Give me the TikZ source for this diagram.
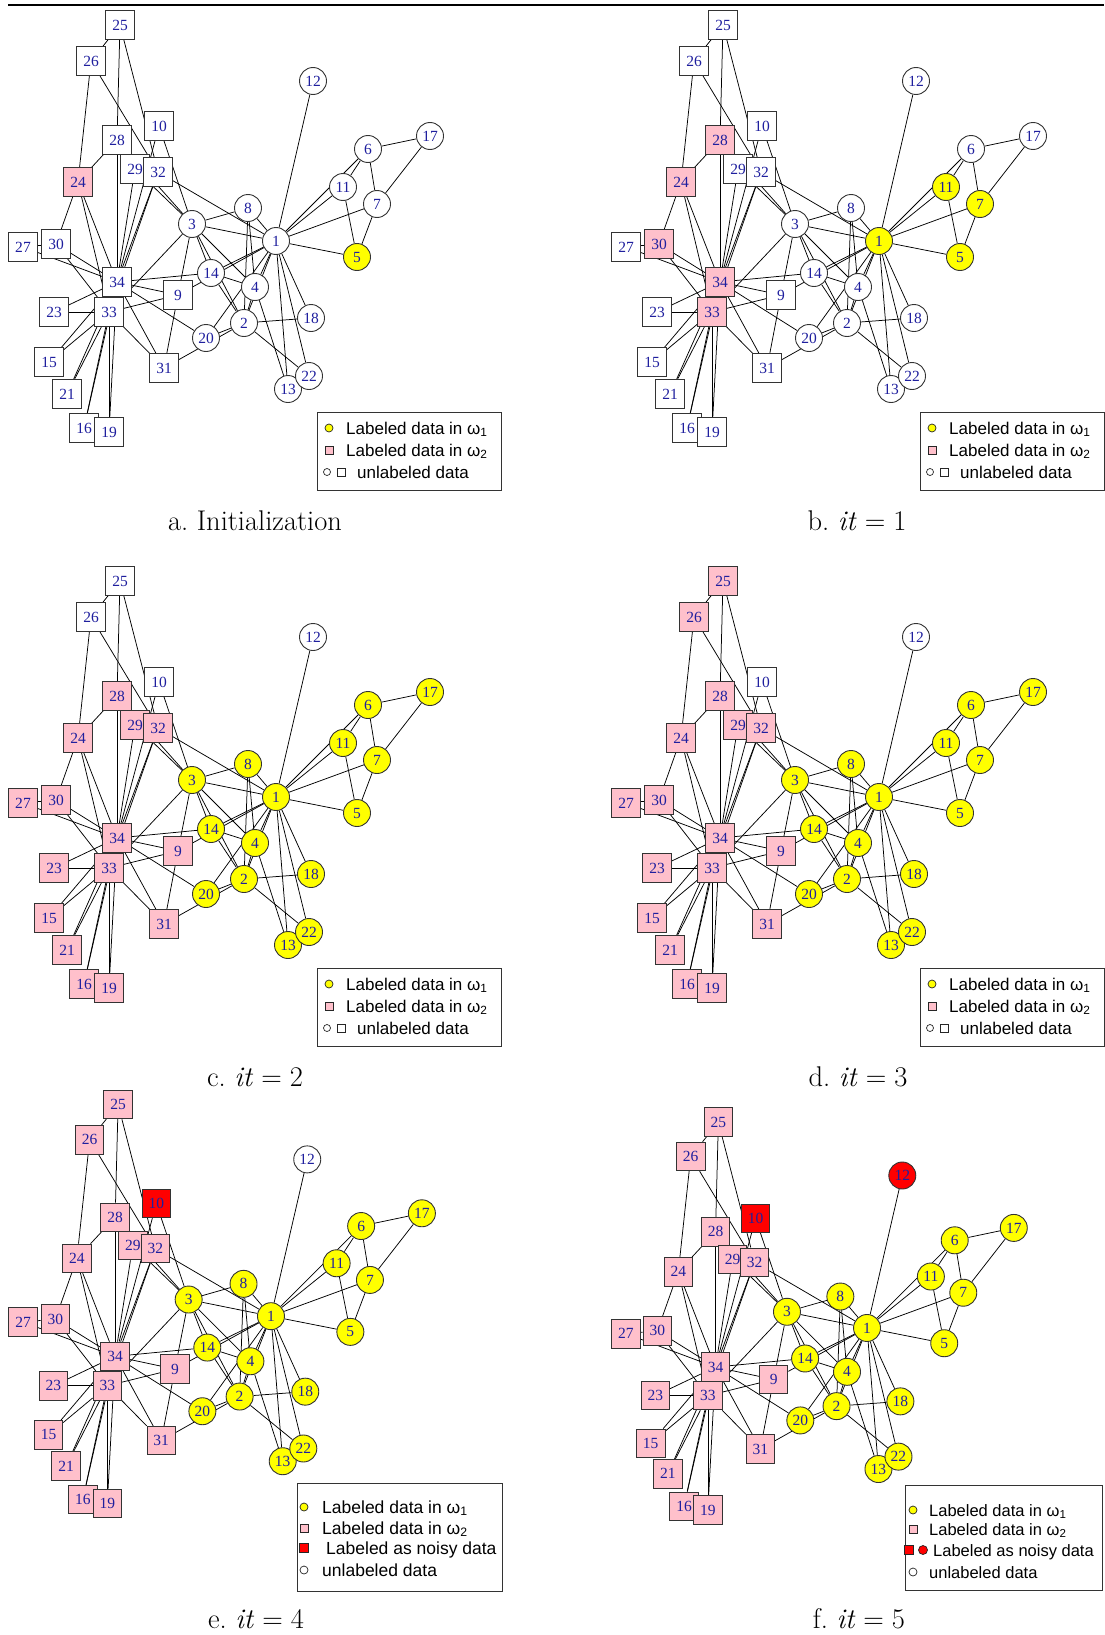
\documentclass[tikz,border=0pt]{standalone}
\usepackage{fontspec}
\newfontfamily\labfont{Liberation Serif}
\newfontfamily\keyfont{Liberation Sans}
\usetikzlibrary{backgrounds}
\definecolor{labblue}{HTML}{1F1F9E}
\definecolor{yellowone}{HTML}{FFFF00}
\definecolor{pinktwo}{HTML}{FFC0CB}
\definecolor{noisyred}{HTML}{FF0000}

% member / x / y / group (1 = circle, 2 = square), layout of panel a
\def\clubnodes{1/276/241/1, 2/244/323/1, 3/192/224/1, 4/255/287/1, 5/357/257/1,
  6/368/149/1, 7/377/204/1, 8/248/208/1, 9/178/295/2, 10/159/126/2, 11/343/187/1,
  12/313/81/1, 13/288/389/1, 14/211/273/1, 15/49/362/2, 16/84/428/2, 17/430/136/1,
  18/311/318/1, 19/109/432/2, 20/206/338/1, 21/67/394/2, 22/309/376/1, 23/54/312/2,
  24/78/182/2, 25/120/25/2, 26/91/61/2, 27/23/247/2, 28/117/140/2, 29/135/169/2,
  30/56/244/2, 31/164/368/2, 32/158/172/2, 33/109/312/2, 34/117/282/2}
\def\clubties{1/2, 1/3, 1/4, 1/5, 1/6, 1/7, 1/8, 1/9, 1/11, 1/12, 1/13, 1/14, 1/18,
  1/20, 1/22, 1/32, 2/3, 2/4, 2/8, 2/14, 2/18, 2/20, 2/22, 2/31, 3/4, 3/8, 3/9, 3/10,
  3/14, 3/28, 3/29, 3/33, 4/8, 4/13, 4/14, 5/7, 5/11, 6/7, 6/11, 6/17, 7/17, 9/31,
  9/33, 9/34, 10/34, 14/34, 15/33, 15/34, 16/33, 16/34, 19/33, 19/34, 20/34, 21/33,
  21/34, 23/33, 23/34, 24/26, 24/28, 24/30, 24/33, 24/34, 25/26, 25/28, 25/32, 26/32,
  27/30, 27/34, 28/34, 29/32, 29/34, 30/33, 30/34, 31/33, 31/34, 32/33, 32/34, 33/34}

\tikzset{
  % members: circles for the first group, squares for the second
  mem1/.style={circle, draw=black!80, line width=0.9pt, fill=\fillone,
    minimum size=27pt, inner sep=0pt, text=labblue,
    font=\labfont\fontsize{15.5}{15.5}\selectfont},
  mem2/.style={rectangle, draw=black!80, line width=0.9pt, fill=\filltwo,
    minimum size=28.5pt, inner sep=0pt, text=labblue,
    font=\labfont\fontsize{15.5}{15.5}\selectfont},
  tie/.style={draw=black, line width=0.75pt},
  % fills
  ylw/.style={fill=yellowone}, pnk/.style={fill=pinktwo},
  unlab/.style={fill=white}, noise/.style={fill=noisyred},
  % members that differ from the panel default
  a-5/.style=ylw, a-24/.style=pnk,
  b-1/.style=ylw, b-5/.style=ylw, b-7/.style=ylw, b-11/.style=ylw,
  b-24/.style=pnk, b-28/.style=pnk, b-30/.style=pnk, b-33/.style=pnk, b-34/.style=pnk,
  c-10/.style=unlab, c-12/.style=unlab, c-25/.style=unlab, c-26/.style=unlab,
  d-10/.style=unlab, d-12/.style=unlab,
  e-10/.style=noise, e-12/.style=unlab,
  f-10/.style=noise, f-12/.style=noise,
  % legend
  keyframe/.style={rectangle, draw=black!80, line width=0.9pt, fill=white, inner sep=0pt},
  keydot/.style={circle, draw=black!85, line width=0.7pt, minimum size=8pt, inner sep=0pt},
  keysq/.style={rectangle, draw=black!85, line width=0.7pt, minimum size=8pt, inner sep=0pt},
  keytext/.style={anchor=base west, inner sep=0pt, font=\keyfont\fontsize{#1}{#1}\selectfont},
  keytext/.default=17,
  caption/.style={inner sep=0pt, font=\fontsize{28.5}{34}\selectfont},
}

% one drawing of the club: tag, shift x, shift y, scale, default fills
\newcommand{\clubpanel}[6]{%
  \def\fillone{#5}\def\filltwo{#6}%
  \foreach \n/\x/\y/\g in \clubnodes
    \node[mem\g, #1-\n/.try] (#1\n) at ({#4*\x+#2},{#4*\y+#3}) {\n};
  \begin{scope}[on background layer]
    \foreach \u/\v in \clubties
      \draw[tie] (#1\u) -- (#1\v);
  \end{scope}
}

% legend of the first four panels
\newcommand{\clubkey}[3]{%
  \begin{scope}[shift={(#2,#3)}]
    \node[keyframe, minimum width=184pt, minimum height=78pt] (#1key) at (409,451) {};
    \node[keydot, fill=yellowone] (#1dot1) at (329,428) {};
    \node[keytext] (#1txt1) at (346,434) {Labeled data in ω\textsubscript{1}};
    \node[keysq, fill=pinktwo] (#1sq2) at (329,450) {};
    \node[keytext] (#1txt2) at (346,456) {Labeled data in ω\textsubscript{2}};
    \node[keydot, minimum size=7pt] (#1dot3) at (327,472) {};
    \node[keysq] (#1sq3) at (341,472) {};
    \node[keytext] (#1txt3) at (357,478) {unlabeled data};
  \end{scope}
}
% iteration caption
\newcommand{\itcap}[2]{#1.\ \textit{it}\hspace{.28em}=\hspace{.28em}#2}

\begin{document}
\begin{tikzpicture}[x=1pt, y=-1pt]
\useasboundingbox (0,0) rectangle (1104,1635);
\draw[line width=2.6pt] (8,5) -- (1104,5);

\clubpanel{a}{0}{0}{1}{white}{white}
\clubkey{a}{0}{0}
\node[caption] (capa) at (255,521) {a.\ Initialization};

\clubpanel{b}{603}{0}{1}{white}{white}
\clubkey{b}{603}{0}
\node[caption] (capb) at (857,521) {\itcap{b}{1}};

\clubpanel{c}{0}{556}{1}{yellowone}{pinktwo}
\clubkey{c}{0}{556}
\node[caption] (capc) at (255,1077) {\itcap{c}{2}};

\clubpanel{d}{603}{556}{1}{yellowone}{pinktwo}
\clubkey{d}{603}{556}
\node[caption] (capd) at (858,1077) {\itcap{d}{3}};

\clubpanel{e}{0.5}{1080}{0.98}{yellowone}{pinktwo}
\node[keyframe, minimum width=205pt, minimum height=108pt] (ekey) at (399.5,1537) {};
\node[keydot, fill=yellowone] (edot1) at (304,1507) {};
\node[keytext=17.5] (etxt1) at (322,1513) {Labeled data in ω\textsubscript{1}};
\node[keysq, fill=pinktwo] (esq2) at (304,1528) {};
\node[keytext=17.5] (etxt2) at (322,1534) {Labeled data in ω\textsubscript{2}};
\node[keysq, fill=noisyred, minimum size=9pt] (esq3) at (304,1548) {};
\node[keytext=17.5] (etxt3) at (326,1554) {Labeled as noisy data};
\node[keydot] (edot4) at (304,1570) {};
\node[keytext=17.5] (etxt4) at (322,1576) {unlabeled data};
\node[caption] (cape) at (256,1619) {\itcap{e}{4}};

\clubpanel{f}{604}{1098.3}{0.953}{yellowone}{pinktwo}
\node[keyframe, minimum width=197pt, minimum height=105pt] (fkey) at (1003.5,1537.5) {};
\node[keydot, fill=yellowone] (fdot1) at (913,1510) {};
\node[keytext=16.5] (ftxt1) at (929,1516) {Labeled data in ω\textsubscript{1}};
\node[keysq, fill=pinktwo] (fsq2) at (913,1529) {};
\node[keytext=16.5] (ftxt2) at (929,1535) {Labeled data in ω\textsubscript{2}};
\node[keysq, fill=noisyred, minimum size=9pt] (fsq3) at (909,1550) {};
\node[keydot, fill=noisyred, minimum size=9pt] (fdot3) at (923,1550) {};
\node[keytext=16.5] (ftxt3) at (933,1556) {Labeled as noisy data};
\node[keydot] (fdot4) at (913,1572) {};
\node[keytext=16.5] (ftxt4) at (929,1578) {unlabeled data};
\node[caption] (capf) at (859,1619) {\itcap{f}{5}};
\end{tikzpicture}
\end{document}
